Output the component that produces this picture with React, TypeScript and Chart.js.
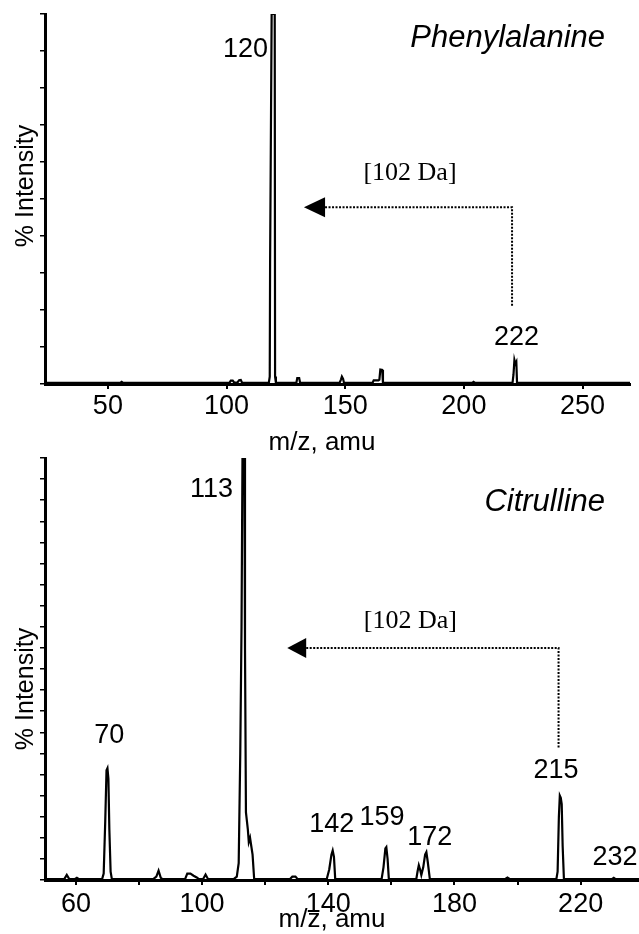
import React, { useEffect, useRef } from "react";
import { Chart, registerables } from "chart.js";

Chart.register(...registerables);

// ---------- Phenylalanine spectrum (top) ----------
const pheMz = [
  23.5, 55.2, 55.8, 56.4, 101.2, 101.8, 102.6, 103.2, 104.6, 105.3, 106.0, 106.6,
  117.8, 118.2, 118.35, 119.0, 120.3, 120.45, 120.8,
  129.4, 129.8, 130.6, 131.0,
  147.6, 148.2, 148.6, 149.1, 149.5,
  161.5, 162.0, 164.0, 164.4, 164.8, 165.6, 165.9,
  203.5, 204.1, 204.7,
  220.5, 220.9, 221.3, 221.7, 222.1, 222.4,
  270,
];
const pheIntensity = [
  0.3, 0.3, 0.6, 0.3, 0.3, 0.9, 0.9, 0.4, 0.4, 1.0, 1.1, 0.3,
  0.3, 2, 33, 100, 100, 2, 0.3,
  0.3, 1.6, 1.6, 0.3,
  0.3, 1.2, 2.0, 1.4, 0.3,
  0.3, 1.0, 1.0, 1.2, 3.9, 3.8, 0.3,
  0.3, 0.6, 0.3,
  0.3, 2.5, 6.5, 5.5, 6.0, 0.3,
  0.3,
];
const pheXTicks = [50, 100, 150, 200, 250];
const pheXLabels = [50, 100, 150, 200, 250];
const pheYTicks = [0, 10, 20, 30, 40, 50, 60, 70, 80, 90, 100];
const pheLabelText = ["120", "222"];
const pheLabelMz = [108, 222.2];
const pheLabelIntensity = [88.4, 10.5];

// ---------- Citrulline spectrum (bottom) ----------
const citMz = [
  50.2, 56.3, 57.1, 57.9, 59.6, 60.3, 61.0,
  68.3, 68.8, 69.3, 69.7, 70.0, 70.3, 70.6, 71.0, 71.4,
  84.5, 85.5, 86.2, 86.9, 87.5,
  94.6, 95.3, 96.3, 97.3, 98.3, 99.0, 100.3, 101.1, 101.9,
  110.0, 111.0, 111.6, 112.1, 112.5, 112.8, 113.4, 113.6, 113.9, 114.2, 114.5, 114.8, 115.2, 115.6, 116.0, 116.5,
  127.8, 128.6, 129.6, 130.3,
  139.5, 140.3, 141.0, 141.4, 141.8, 142.2,
  156.9, 157.5, 158.1, 158.4, 158.8, 159.2,
  167.9, 168.3, 168.7, 169.1, 169.5, 170.1, 170.7, 171.1, 171.5, 172.2,
  196.0, 196.8, 197.6,
  212.3, 212.7, 213.1, 213.4, 213.7, 214.0, 214.3, 214.7,
  229.9, 230.5, 231.1,
  238.5,
];
const citIntensity = [
  0.2, 0.2, 1.2, 0.2, 0.2, 0.5, 0.2,
  0.2, 1.5, 14, 26, 26.5, 24, 12, 2, 0.2,
  0.2, 0.8, 2.2, 0.5, 0.2,
  0.2, 1.5, 1.5, 1.0, 0.6, 0.2, 0.2, 1.3, 0.2,
  0.2, 0.8, 4, 30, 60, 100, 100, 55, 16, 14, 12, 9, 10, 8, 6, 0.3,
  0.2, 0.8, 0.8, 0.2,
  0.2, 2.5, 6, 7, 5.5, 0.2,
  0.2, 3, 7.5, 7.8, 5, 0.2,
  0.2, 2, 3.5, 2.5, 1.2, 3, 6, 6.6, 4.5, 0.2,
  0.2, 0.6, 0.2,
  0.2, 2, 15, 20, 19.5, 18, 8, 0.2,
  0.2, 0.5, 0.2,
  0.2,
];
const citXTicks = [60, 80, 100, 120, 140, 160, 180, 200, 220];
const citXLabels = [60, 100, 140, 180, 220];
const citYTicks = [0, 5, 10, 15, 20, 25, 30, 35, 40, 45, 50, 55, 60, 65, 70, 75, 80, 85, 90, 95, 100];
const citLabelText = ["113", "70", "142", "159", "172", "215", "232"];
const citLabelMz = [103, 70.6, 141.1, 157, 172.2, 212.2, 230.9];
const citLabelIntensity = [90.8, 32.5, 11.4, 13, 8.3, 24.2, 3.6];

const SANS = '"Liberation Sans", Arial, Helvetica, sans-serif';
const SERIF = '"Liberation Serif", "Times New Roman", serif';

type Spec = {
  key: string;
  name: string;
  mz: number[];
  intensity: number[];
  xMin: number;
  xMax: number;
  xTicks: number[];
  xLabels: number[];
  yTicks: number[];
  labelText: string[];
  labelMz: number[];
  labelIntensity: number[];
  shiftTextMz: number;
  shiftTextIntensity: number;
  arrowTipMz: number;
  arrowBaseMz: number;
  arrowFromMz: number;
  arrowIntensity: number;
  arrowFromIntensity: number;
  padTop: number;
  padRight: number;
  xAxisHeight: number;
  tickPad: number;
  nameX: number;
  nameY: number;
  xTitleX: number;
  xTitleY: number;
  yTitleX: number;
  yTitleY: number;
};

const pheSpec: Spec = {
  key: "phe",
  name: "Phenylalanine",
  mz: pheMz,
  intensity: pheIntensity,
  xMin: 23.5,
  xMax: 270,
  xTicks: pheXTicks,
  xLabels: pheXLabels,
  yTicks: pheYTicks,
  labelText: pheLabelText,
  labelMz: pheLabelMz,
  labelIntensity: pheLabelIntensity,
  shiftTextMz: 177.3,
  shiftTextIntensity: 55.1,
  arrowTipMz: 132.6,
  arrowBaseMz: 141.5,
  arrowFromMz: 220.3,
  arrowIntensity: 47.8,
  arrowFromIntensity: 20.8,
  padTop: 14,
  padRight: 9,
  xAxisHeight: 76,
  tickPad: 1,
  nameX: 605,
  nameY: 47,
  xTitleX: 322,
  xTitleY: 450,
  yTitleX: 33,
  yTitleY: 186,
};

const citSpec: Spec = {
  key: "cit",
  name: "Citrulline",
  mz: citMz,
  intensity: citIntensity,
  xMin: 50.2,
  xMax: 238.5,
  xTicks: citXTicks,
  xLabels: citXLabels,
  yTicks: citYTicks,
  labelText: citLabelText,
  labelMz: citLabelMz,
  labelIntensity: citLabelIntensity,
  shiftTextMz: 166,
  shiftTextIntensity: 59.7,
  arrowTipMz: 127,
  arrowBaseMz: 133,
  arrowFromMz: 213,
  arrowIntensity: 55,
  arrowFromIntensity: 31.3,
  padTop: 38,
  padRight: 0,
  xAxisHeight: 54,
  tickPad: 3,
  nameX: 605,
  nameY: 91,
  xTitleX: 332,
  xTitleY: 507,
  yTitleX: 33,
  yTitleY: 269,
};

function notesPlugin(s: Spec) {
  return {
    id: "notes_" + s.key,
    afterDraw(chart: any) {
      const { ctx } = chart;
      const x = chart.scales.x;
      const y = chart.scales.y;
      ctx.save();
      ctx.fillStyle = "#000";
      ctx.strokeStyle = "#000";

      // peak labels
      ctx.font = `27px ${SANS}`;
      ctx.textAlign = "center";
      ctx.textBaseline = "alphabetic";
      s.labelText.forEach((t, i) => {
        ctx.fillText(t, x.getPixelForValue(s.labelMz[i]), y.getPixelForValue(s.labelIntensity[i]));
      });

      // compound name
      ctx.font = `italic 31px ${SANS}`;
      ctx.textAlign = "right";
      ctx.fillText(s.name, s.nameX, s.nameY);

      // mass shift text
      ctx.font = `26px ${SERIF}`;
      ctx.textAlign = "center";
      ctx.fillText("[102 Da]", x.getPixelForValue(s.shiftTextMz), y.getPixelForValue(s.shiftTextIntensity));

      // dotted arrow
      const yA = y.getPixelForValue(s.arrowIntensity);
      const xTip = x.getPixelForValue(s.arrowTipMz);
      const xBase = x.getPixelForValue(s.arrowBaseMz);
      const xCorner = x.getPixelForValue(s.arrowFromMz);
      const yEnd = y.getPixelForValue(s.arrowFromIntensity);
      ctx.lineWidth = 2;
      ctx.setLineDash([2, 1.5]);
      ctx.beginPath();
      ctx.moveTo(xBase, yA);
      ctx.lineTo(xCorner, yA);
      ctx.lineTo(xCorner, yEnd);
      ctx.stroke();
      ctx.setLineDash([]);
      ctx.beginPath();
      ctx.moveTo(xTip, yA);
      ctx.lineTo(xBase, yA - 10);
      ctx.lineTo(xBase, yA + 10);
      ctx.closePath();
      ctx.fill();

      // axis titles
      ctx.font = `26px ${SANS}`;
      ctx.textAlign = "center";
      ctx.fillText("m/z, amu", s.xTitleX, s.xTitleY);
      ctx.save();
      ctx.translate(s.yTitleX, s.yTitleY);
      ctx.rotate(-Math.PI / 2);
      ctx.font = `25px ${SANS}`;
      ctx.fillText("% Intensity", 0, 0);
      ctx.restore();

      ctx.restore();
    },
  };
}

function buildConfig(s: Spec): any {
  return {
    type: "line",
    data: {
      datasets: [
        {
          data: s.mz.map((v, i) => ({ x: v, y: s.intensity[i] })),
          borderColor: "#000",
          borderWidth: 2.2,
          pointRadius: 0,
          tension: 0,
          fill: false,
        },
      ],
    },
    options: {
      animation: false,
      responsive: false,
      events: [],
      layout: { padding: { top: s.padTop, right: s.padRight, left: 0, bottom: 0 } },
      plugins: { legend: { display: false }, tooltip: { enabled: false }, title: { display: false } },
      scales: {
        x: {
          type: "linear",
          min: s.xMin,
          max: s.xMax,
          afterFit: (sc: any) => {
            sc.height = s.xAxisHeight;
          },
          afterBuildTicks: (sc: any) => {
            sc.ticks = s.xTicks.map((v) => ({ value: v }));
          },
          ticks: {
            autoSkip: false,
            maxRotation: 0,
            padding: s.tickPad,
            color: "#000",
            font: { family: SANS, size: 27 },
            callback: (v: number) => (s.xLabels.includes(v) ? String(v) : ""),
          },
          grid: { drawOnChartArea: false, drawTicks: true, tickLength: 5, color: "#000", lineWidth: 2 },
          border: { display: true, color: "#000", width: 3 },
        },
        y: {
          min: 0,
          max: 100,
          afterFit: (sc: any) => {
            sc.width = 45;
          },
          afterBuildTicks: (sc: any) => {
            sc.ticks = s.yTicks.map((v) => ({ value: v }));
          },
          ticks: { display: false },
          grid: { drawOnChartArea: false, drawTicks: true, tickLength: 5, color: "#000", lineWidth: 1.5 },
          border: { display: true, color: "#000", width: 3 },
        },
      },
    },
    plugins: [notesPlugin(s)],
  };
}

function Spectrum({ spec, top, height }: { spec: Spec; top: number; height: number }) {
  const ref = useRef<HTMLCanvasElement | null>(null);
  useEffect(() => {
    if (!ref.current) return;
    const chart = new Chart(ref.current, buildConfig(spec));
    return () => chart.destroy();
  }, [spec]);
  return (
    <canvas
      ref={ref}
      width={639}
      height={height}
      style={{ position: "absolute", left: 0, top, width: 639, height }}
    />
  );
}

export default function App() {
  return (
    <div style={{ position: "absolute", left: 0, top: 0, width: 639, height: 934, background: "#fff", overflow: "hidden" }}>
      <Spectrum spec={pheSpec} top={0} height={460} />
      <Spectrum spec={citSpec} top={420} height={514} />
    </div>
  );
}
